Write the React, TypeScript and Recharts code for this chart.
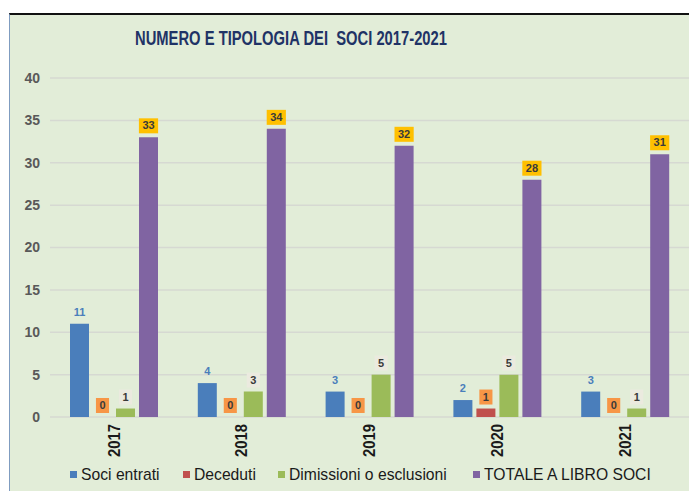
import React from 'react'
import {
   Bar,
   BarChart,
   CartesianGrid,
   LabelList,
   Legend,
   XAxis,
   YAxis,
} from 'recharts'

const years = ['2017', '2018', '2019', '2020', '2021']
const sociEntrati = [11, 4, 3, 2, 3]
const deceduti = [0, 0, 0, 1, 0]
const dimissioni = [1, 3, 5, 5, 1]
const totale = [33, 34, 32, 28, 31]
const yTicks = [0, 5, 10, 15, 20, 25, 30, 35, 40]

const series = [
   { key: 'entrati', name: 'Soci entrati', color: '#4A7EBB', labelBg: 'none', labelColor: '#4A7EBB' },
   { key: 'deceduti', name: 'Deceduti', color: '#C0504D', labelBg: '#F79646', labelColor: '#3a3a3a' },
   { key: 'dimissioni', name: 'Dimissioni o esclusioni', color: '#9BBB59', labelBg: '#EBEADF', labelColor: '#3a3a3a' },
   { key: 'totale', name: 'TOTALE A LIBRO SOCI', color: '#8064A2', labelBg: '#FFC000', labelColor: '#3a3a3a' },
]

const data = years.map((year, i) => ({
   year,
   entrati: sociEntrati[i],
   deceduti: deceduti[i],
   dimissioni: dimissioni[i],
   totale: totale[i],
}))

const FONT = "'Liberation Sans', Arial, sans-serif"

// posizioni della legenda (x del quadratino)
const legendX = [70, 183, 278, 473]

const makeLabel = (bg: string, color: string) => (props: any) => {
   const { x, y, width, height, value } = props
   const cx = Number(x) + Number(width) / 2
   const w = String(value).length * 6.1 + 7
   // y del top della barra (anche per barre a zero)
   const top = Math.min(Number(y), Number(y) + Number(height || 0))
   const bottom = top - 4
   return (
      <g>
         {bg !== 'none' && (
            <rect x={cx - w / 2} y={bottom - 15} width={w} height={15} fill={bg} />
         )}
         <text
            x={cx}
            y={bottom - 4}
            textAnchor="middle"
            fontFamily={FONT}
            fontWeight="bold"
            fontSize={11}
            fill={color}
         >
            {value}
         </text>
      </g>
   )
}

const YearTick = (props: any) => {
   const { x, y, payload } = props
   const ty = y - 1
   return (
      <text
         x={x}
         y={ty}
         transform={`rotate(-90, ${x}, ${ty})`}
         textAnchor="end"
         dy="0.36em"
         fontFamily={FONT}
         fontWeight="bold"
         fontSize={16}
         textLength={33}
         lengthAdjust="spacingAndGlyphs"
         fill="#1a1a1a"
      >
         {payload.value}
      </text>
   )
}

const renderLegend = () => (
   <svg width={689} height={26} style={{ display: 'block' }}>
      {series.map((s, i) => (
         <g key={s.key}>
            <rect x={legendX[i]} y={7} width={7} height={7} fill={s.color} />
            <text x={legendX[i] + 11} y={16} fontFamily={FONT} fontSize={15.7} fill="#1a1a1a">
               {s.name}
            </text>
         </g>
      ))}
   </svg>
)

export default function App() {
   return (
      <div style={{ position: 'absolute', left: 0, top: 0, width: 689, height: 491, background: '#fff', overflow: 'hidden' }}>
         {/* pannello verde */}
         <div
            style={{
               position: 'absolute',
               left: 9,
               top: 13,
               width: 690,
               height: 490,
               background: '#E2EDD8',
               borderTop: '2px solid #111',
               borderLeft: '1px solid #7f9cc0',
            }}
         />
         <svg width={689} height={60} style={{ position: 'absolute', left: 0, top: 0 }}>
            <text
               x={291}
               y={45}
               textAnchor="middle"
               fontFamily={FONT}
               fontWeight="bold"
               fontSize={19.5}
               textLength={312}
               lengthAdjust="spacingAndGlyphs"
               fill="#1F3366"
            >
               {'NUMERO E TIPOLOGIA DEI\u00A0 SOCI 2017-2021'}
            </text>
         </svg>
         <div style={{ position: 'absolute', left: 0, top: 0 }}>
            <BarChart
               width={689}
               height={491}
               data={data}
               margin={{ top: 78, right: 0, bottom: 44, left: 0 }}
               barSize={19}
               barGap={4}
            >
               <CartesianGrid vertical={false} stroke="#D6D9D2" strokeWidth={1.5} />
               <XAxis
                  dataKey="year"
                  height={30}
                  axisLine={false}
                  tickLine={false}
                  tick={<YearTick />}
                  interval={0}
               />
               <YAxis
                  width={50}
                  domain={[0, 40]}
                  ticks={yTicks}
                  axisLine={false}
                  tickLine={false}
                  tickMargin={4}
                  tick={{ fontFamily: FONT, fontWeight: 'bold', fontSize: 14, fill: '#595959' }}
               />
               <Legend
                  layout="horizontal"
                  verticalAlign="middle"
                  align="center"
                  content={renderLegend}
                  wrapperStyle={{ left: 0, top: 464, width: 689 }}
               />
               {series.map((s) => (
                  <Bar
                     key={s.key}
                     dataKey={s.key}
                     name={s.name}
                     fill={s.color}
                     minPointSize={(v: number) => (v === 0 ? 0.01 : 0)}
                     isAnimationActive={false}
                  >
                     <LabelList dataKey={s.key} content={makeLabel(s.labelBg, s.labelColor)} />
                  </Bar>
               ))}
            </BarChart>
         </div>
      </div>
   )
}
